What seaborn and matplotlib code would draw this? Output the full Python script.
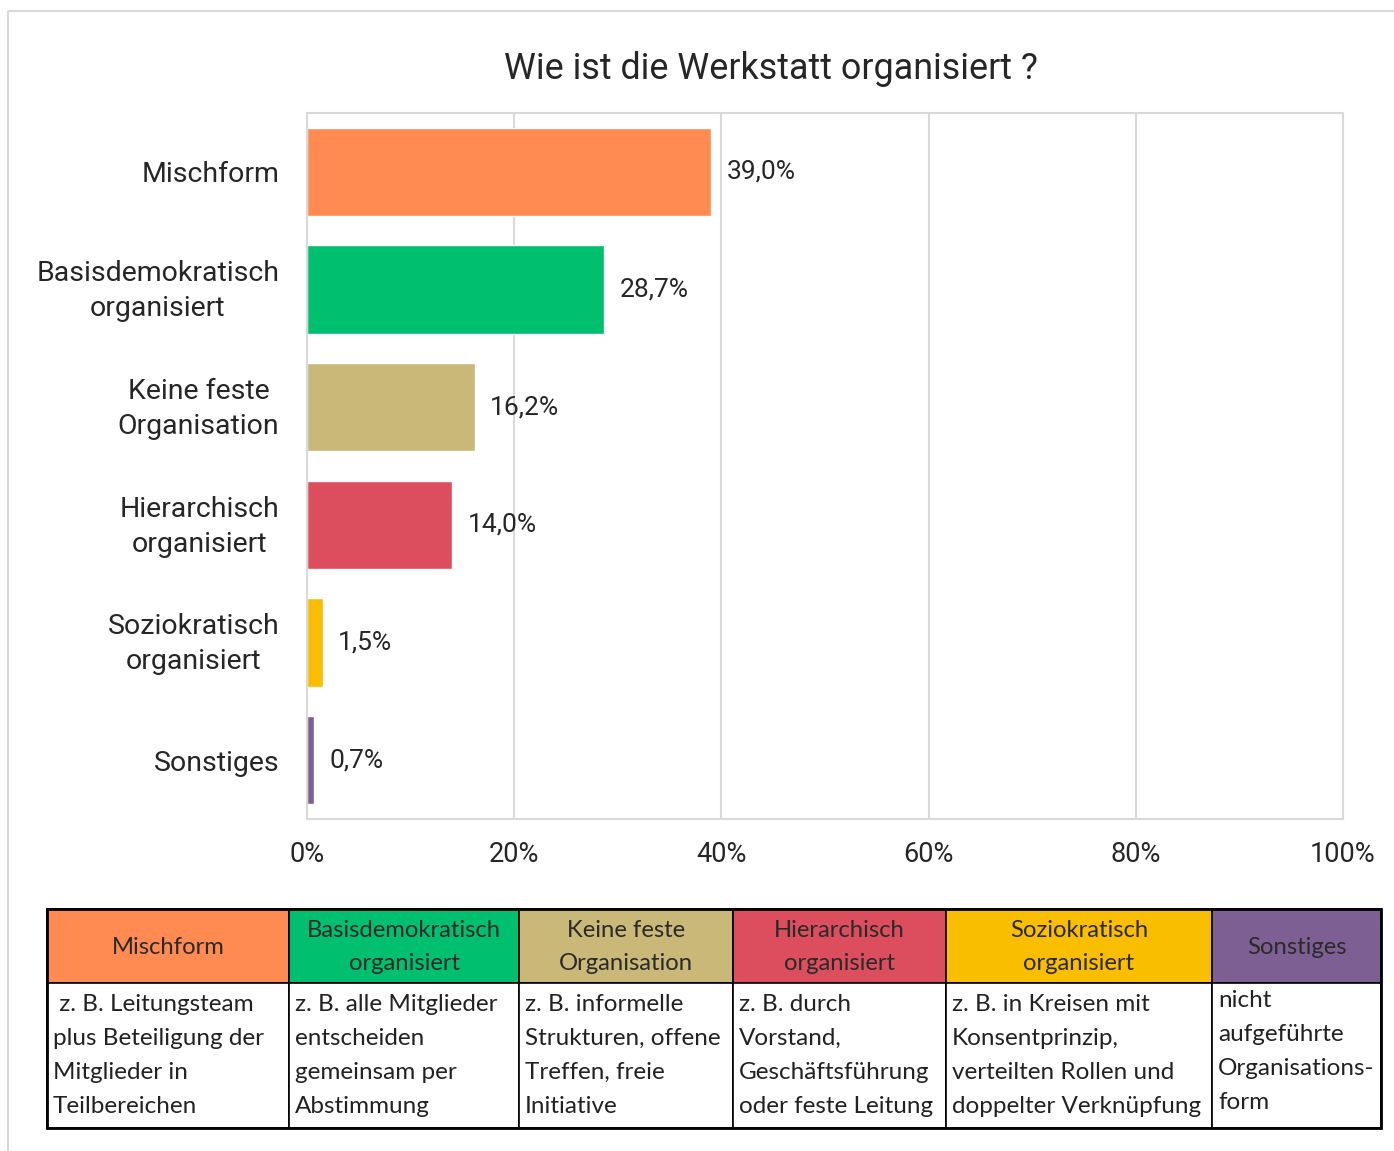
import matplotlib
matplotlib.use("Agg")
import matplotlib.pyplot as plt
import matplotlib.transforms as mtransforms
import seaborn as sns
import pandas as pd
from matplotlib.patches import Rectangle

# chart data
categories = ["Mischform", "Basisdemokratisch\norganisiert", "Keine feste\nOrganisation",
              "Hierarchisch\norganisiert", "Soziokratisch\norganisiert", "Sonstiges"]
shares = [0.390, 0.287, 0.162, 0.140, 0.015, 0.007]
colors = ["#FF8B52", "#00BF6F", "#C9B877", "#DC4D5D", "#F9BE00", "#7E5F94"]
x_ticks = [0, 0.2, 0.4, 0.6, 0.8, 1.0]
x_tick_labels = ["0%", "20%", "40%", "60%", "80%", "100%"]

# legend table data
table_heads = ["Mischform", "Basisdemokratisch\norganisiert", "Keine feste\nOrganisation",
               "Hierarchisch\norganisiert", "Soziokratisch\norganisiert", "Sonstiges"]
table_texts = [
    [" z. B. Leitungsteam", "plus Beteiligung der", "Mitglieder in", "Teilbereichen"],
    ["z. B. alle Mitglieder", "entscheiden", "gemeinsam per", "Abstimmung"],
    ["z. B. informelle", "Strukturen, offene", "Treffen, freie", "Initiative"],
    ["z. B. durch", "Vorstand,", "Geschäftsführung", "oder feste Leitung"],
    ["z. B. in Kreisen mit", "Konsentprinzip,", "verteilten Rollen und", "doppelter Verknüpfung"],
    ["nicht", "aufgeführte", "Organisations-", "form"],
]
col_edges = [47, 289, 519, 733, 946, 1212, 1381]

W, H = 1394, 1151
grid_c = "#D9D9D9"

sns.set_theme(style="white")
plt.rcParams["font.family"] = ["Roboto", "DejaVu Sans"]

fig = plt.figure(figsize=(W / 100, H / 100), dpi=100)

# overlay for frame and table (pixel coordinates)
ov = fig.add_axes([0, 0, 1, 1], zorder=0)
ov.set_xlim(0, W)
ov.set_ylim(H, 0)
ov.axis("off")
ov.add_patch(Rectangle((8, 11), W + 20, H + 20, fill=False, edgecolor="#D9D9D9", lw=1.5))

df = pd.DataFrame({"cat": categories, "share": shares})

ax = fig.add_axes([307 / W, 1 - 819 / H, (1343 - 307) / W, (819 - 113) / H], zorder=1)
ax.patch.set_alpha(0)
sns.barplot(data=df, y="cat", x="share", hue="cat", palette=colors, orient="h",
            width=0.75, legend=False, ax=ax, saturation=1)

ax.set_xlim(0, 1)
ax.set_xticks(x_ticks)
ax.set_xticklabels(x_tick_labels)
ax.grid(axis="x", color=grid_c, lw=1.5)
ax.set_axisbelow(True)
for s in ax.spines.values():
    s.set_color(grid_c)
    s.set_linewidth(1.5)
ax.set_xlabel("")
ax.set_ylabel("")
ax.tick_params(axis="x", length=6, width=1.5, color=grid_c, pad=10, labelsize=19.5)
ax.tick_params(axis="y", length=0, pad=20, labelsize=20.5)
shift_up = mtransforms.ScaledTranslation(0, 5 / 100, fig.dpi_scale_trans)
for lab in ax.get_yticklabels():
    lab.set_multialignment("center")
    lab.set_linespacing(1.38)
    if "\n" in lab.get_text():
        lab.set_transform(lab.get_transform() + shift_up)

for cont in ax.containers:
    vals = [b.get_width() for b in cont]
    ax.bar_label(cont, labels=[f"{v * 100:.1f}%".replace(".", ",") for v in vals],
                 padding=11, fontsize=19)

fig.text(771 / W, 1 - 69 / H, "Wie ist die Werkstatt organisiert ?", ha="center",
         va="center", fontsize=25.8)

# legend table
tf = ["Lato", "DejaVu Sans"]
top, mid, bot = 909, 983, 1128
for i, head in enumerate(table_heads):
    x0, x1 = col_edges[i], col_edges[i + 1]
    ov.add_patch(Rectangle((x0, top), x1 - x0, mid - top, facecolor=colors[i],
                           edgecolor="black", lw=1.2))
    ov.add_patch(Rectangle((x0, mid), x1 - x0, bot - mid, facecolor="white",
                           edgecolor="black", lw=1.2))
    ov.text((x0 + x1) / 2, (top + mid) / 2 + 1, head, ha="center", va="center",
            fontsize=17.2, color="#2a2a2a", family=tf, linespacing=1.75)
    y0 = 1004 if i < 5 else 1000
    for j, line in enumerate(table_texts[i]):
        ov.text(x0 + 6, y0 + j * 34.3, line, ha="left", va="center",
                fontsize=17.5, color="#222222", family=tf)
ov.add_patch(Rectangle((col_edges[0], top), col_edges[-1] - col_edges[0], bot - top,
                       fill=False, edgecolor="black", lw=2))

fig.savefig("out.png", dpi=100)
